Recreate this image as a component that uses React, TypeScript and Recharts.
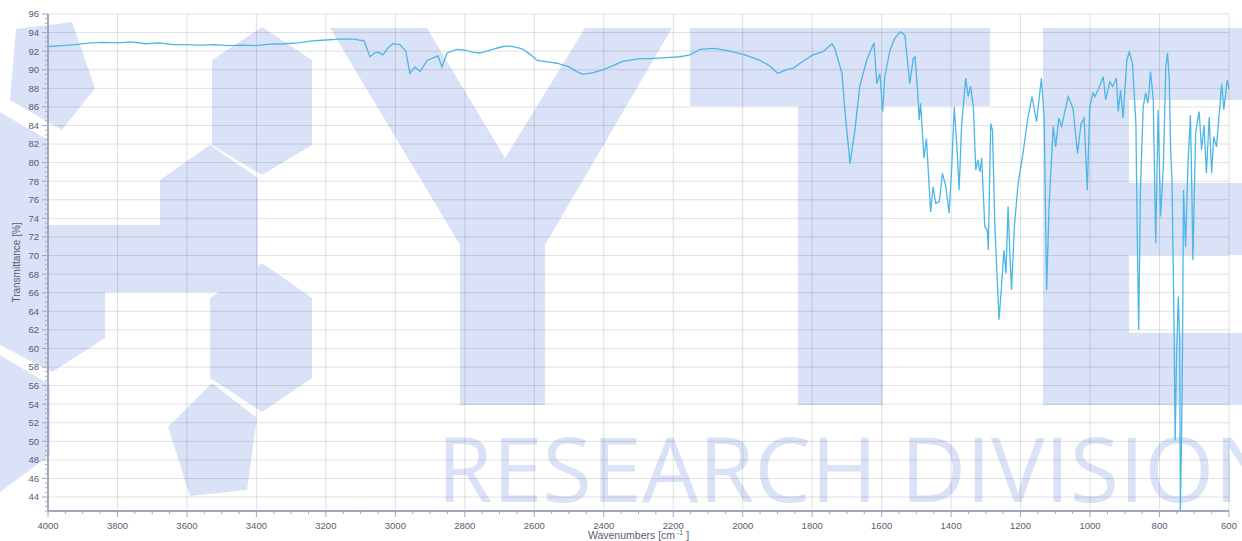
import { CartesianGrid, Label, Line, LineChart, XAxis, YAxis } from 'recharts';

// IR spectrum (wavenumber in cm-1, transmittance in %)
const wavenumbers = [
  4000, 3960, 3920, 3880, 3840, 3800, 3760, 3720, 3680, 3640, 3600, 3560, 3520, 3480, 3440, 3400,
  3360, 3320, 3280, 3240, 3200, 3160, 3120, 3090, 3073, 3060, 3050, 3036, 3020, 3007, 2987, 2970,
  2958, 2944, 2929, 2909, 2877, 2866, 2851, 2823, 2800, 2777, 2757, 2720, 2690, 2670, 2650, 2632,
  2610, 2592, 2560, 2535, 2500, 2477, 2460, 2430, 2402, 2370, 2345, 2296, 2267, 2220, 2180, 2152,
  2123, 2080, 2037, 1994, 1950, 1922, 1899, 1873, 1855, 1835, 1798, 1769, 1743, 1735, 1714, 1706,
  1691, 1677, 1663, 1643, 1622, 1614, 1605, 1597, 1591, 1576, 1562, 1546, 1533, 1525, 1519, 1509,
  1504, 1497, 1492, 1488, 1478, 1471, 1459, 1452, 1444, 1434, 1425, 1415, 1406, 1399, 1391, 1384,
  1377, 1370, 1358, 1351, 1344, 1336, 1329, 1323, 1317, 1312, 1303, 1296, 1293, 1286, 1281, 1274,
  1262, 1255, 1248, 1242, 1236, 1231, 1226, 1218, 1207, 1193, 1180, 1167, 1154, 1140, 1132, 1125,
  1118, 1106, 1099, 1090, 1082, 1063, 1049, 1036, 1026, 1017, 1008, 1001, 991, 986, 975, 962,
  955, 943, 935, 924, 919, 912, 905, 894, 887, 878, 868, 864, 860, 855, 847, 840,
  833, 826, 818, 811, 804, 797, 789, 782, 777, 772, 768, 764, 758, 755, 751, 746,
  742, 740, 736, 734, 731, 725, 718, 711, 707, 704, 696, 686, 679, 672, 665, 657,
  650, 644, 636, 628, 621, 615, 605, 600,
];

const transmittance = [
  92.5, 92.6, 92.7, 92.9, 92.95, 92.9, 93.0, 92.8, 92.9, 92.7, 92.7, 92.65, 92.7, 92.6, 92.65, 92.6,
  92.75, 92.8, 92.9, 93.1, 93.2, 93.3, 93.3, 93.1, 91.4, 91.8, 91.9, 91.6, 92.4, 92.8, 92.7, 92.0,
  89.6, 90.3, 89.8, 91.0, 91.5, 90.3, 91.8, 92.2, 92.1, 91.9, 91.8, 92.2, 92.5, 92.55, 92.4, 92.2,
  91.6, 91.0, 90.85, 90.7, 90.3, 89.8, 89.5, 89.7, 90.0, 90.5, 90.9, 91.2, 91.2, 91.3, 91.4, 91.6,
  92.2, 92.3, 92.0, 91.6, 91.0, 90.4, 89.6, 90.0, 90.15, 90.7, 91.6, 91.95, 92.8, 92.3, 89.6, 85.7,
  79.9, 83.5, 88.2, 91.05, 92.9, 88.5, 89.6, 85.5, 89.25, 92.1, 93.4, 94.1, 93.7, 90.7, 88.5, 91.2,
  91.4, 88.0, 84.6, 86.4, 80.5, 82.6, 74.7, 77.4, 75.6, 75.8, 78.85, 77.4, 74.55, 78.85, 86.0, 82.1,
  77.05, 83.9, 89.1, 87.1, 88.2, 86.0, 79.2, 80.3, 79.0, 80.5, 73.1, 72.75, 70.6, 84.2, 83.5, 73.1,
  63.1, 66.65, 70.6, 68.1, 75.3, 70.3, 66.3, 73.1, 77.8, 81.0, 84.6, 87.1, 84.4, 89.1, 84.6, 66.3,
  75.3, 83.9, 81.7, 84.8, 83.9, 87.1, 85.85, 81.0, 84.2, 84.8, 77.05, 86.0, 87.5, 87.1, 88.0, 89.25,
  86.75, 88.7, 88.2, 89.1, 85.5, 87.8, 84.8, 91.05, 91.9, 90.7, 84.2, 71.7, 62.0, 77.05, 86.0, 87.5,
  86.4, 89.8, 86.75, 71.3, 85.7, 74.2, 79.6, 90.3, 91.8, 88.9, 81.4, 77.8, 62.0, 50.1, 59.1, 65.6,
  60.9, 42.6, 52.0, 59.1, 77.05, 70.95, 80.0, 85.1, 77.05, 69.5, 83.2, 85.5, 81.4, 84.05, 78.85, 84.9,
  78.85, 82.8, 81.7, 85.3, 88.5, 85.7, 88.9, 87.9,
];

const xMajorTicks = [
  600, 800, 1000, 1200, 1400, 1600, 1800, 2000, 2200, 2400, 2600, 2800, 3000, 3200, 3400, 3600, 3800, 4000,
];
const yMajorTicks = [
  44, 46, 48, 50, 52, 54, 56, 58, 60, 62, 64, 66, 68, 70, 72, 74, 76, 78, 80, 82, 84, 86, 88, 90, 92, 94, 96,
];
const xDomain = [600, 4000];
const yDomain = [42.5, 96];

// minor ticks every 50 cm-1 and every 0.5 %
const xTicks = Array.from({ length: (xDomain[1] - xDomain[0]) / 50 + 1 }, (_, i) => xDomain[0] + i * 50);
const yTicks = Array.from({ length: (yDomain[1] - yDomain[0]) / 0.5 + 1 }, (_, i) => yDomain[0] + i * 0.5);

const data = wavenumbers.map((w, i) => ({ w, t: transmittance[i] }));

const FONT = '"Liberation Sans", Arial, sans-serif';
const AXIS = '#a2a8b9';
const TEXT = '#585c70';
const MARK = '#dae2f7';

const XTick = (props: any) => {
  const { x, y, payload } = props;
  const major = payload.value % 200 === 0;
  return (
    <g>
      <line x1={x} x2={x} y1={y} y2={y + (major ? 6 : 3)} stroke={AXIS} strokeWidth={1} />
      {major && (
        <text x={x} y={y + 18} textAnchor="middle" fontFamily={FONT} fontSize={9.5} fill={TEXT}>
          {payload.value}
        </text>
      )}
    </g>
  );
};

const YTick = (props: any) => {
  const { x, y, payload } = props;
  const v = payload.value;
  const major = v % 2 === 0 && v >= 44;
  return (
    <g>
      <line x1={x} x2={x - (major ? 6 : 3)} y1={y} y2={y} stroke={AXIS} strokeWidth={1} />
      {major && (
        <text x={x - 9} y={y + 3.4} textAnchor="end" fontFamily={FONT} fontSize={9.5} fill={TEXT}>
          {v}
        </text>
      )}
    </g>
  );
};

// faint logo behind the plot
const Watermark = () => {
  const shapes = [
    '16,29 72,22 95,88 62,130 10,100',
    '0,112 48,140 48,225 160,225 160,180 210,145 258,178 258,292 105,292 105,338 52,372 0,345',
    '0,355 50,385 50,455 0,492',
    '212,60 262,27 312,60 312,145 262,175 212,145',
    '210,298 262,263 312,298 312,378 262,412 210,378',
    '168,427 212,383 257,418 247,490 190,496',
    '330,28 427,28 505,158 585,28 672,28 545,245 545,405 460,405 460,245',
    '690,28 990,28 990,106 883,106 883,405 798,405 798,106 690,106',
    '1043,28 1242,28 1242,100 1129,100 1129,183 1242,183 1242,255 1129,255 1129,333 1242,333 1242,405 1043,405',
  ];
  return (
    <svg width={1242} height={541} style={{ position: 'absolute', left: 0, top: 0 }}>
      {shapes.map((p, i) => (
        <polygon key={i} points={p} fill={MARK} />
      ))}
      <text
        x={437}
        y={502}
        fontFamily='"Open Sans", "Liberation Sans", sans-serif'
        fontSize={90}
        fill={MARK}
        textLength={845}
        lengthAdjust="spacingAndGlyphs"
      >
        RESEARCH DIVISION
      </text>
    </svg>
  );
};

export default function App() {
  return (
    <div style={{ position: 'absolute', left: 0, top: 0, width: 1242, height: 541, background: '#fff', overflow: 'hidden' }}>
      <Watermark />
      <div style={{ position: 'absolute', left: 0, top: 0 }}>
        <LineChart width={1242} height={541} data={data} margin={{ top: 14, right: 13, left: 8, bottom: 0 }}>
          <CartesianGrid
            stroke="#000"
            strokeOpacity={0.12}
            verticalValues={xMajorTicks}
            horizontalValues={yMajorTicks}
          />
          <XAxis
            dataKey="w"
            type="number"
            domain={xDomain}
            reversed
            ticks={xTicks}
            interval={0}
            height={30}
            tickSize={0}
            tickMargin={0}
            tickLine={false}
            axisLine={{ stroke: AXIS, strokeWidth: 2 }}
            tick={(p: any) => <XTick {...p} />}
          >
            <Label
              content={(p: any) => {
                const vb = p.viewBox;
                return (
                  <text x={vb.x + vb.width / 2} y={vb.y + 27.5} textAnchor="middle" fontFamily={FONT} fontSize={10.5} fill={TEXT}>
                    Wavenumbers [cm
                    <tspan dy={-4} fontSize={7}> -1</tspan>
                    <tspan dy={4}> ]</tspan>
                  </text>
                );
              }}
            />
          </XAxis>
          <YAxis
            type="number"
            domain={yDomain}
            allowDataOverflow
            ticks={yTicks}
            interval={0}
            width={40}
            tickSize={0}
            tickMargin={0}
            tickLine={false}
            axisLine={{ stroke: AXIS, strokeWidth: 2 }}
            tick={(p: any) => <YTick {...p} />}
          >
            <Label
              content={(p: any) => {
                const vb = p.viewBox;
                const cx = vb.x + 8;
                const cy = vb.y + vb.height / 2;
                return (
                  <text
                    x={cx}
                    y={cy}
                    transform={`rotate(-90 ${cx} ${cy})`}
                    textAnchor="middle"
                    dominantBaseline="central"
                    fontFamily={FONT}
                    fontSize={10}
                    fill={TEXT}
                  >
                    Transmittance [%]
                  </text>
                );
              }}
            />
          </YAxis>
          <Line
            type="linear"
            dataKey="t"
            stroke="#4cb6e6"
            strokeWidth={1.3}
            dot={false}
            activeDot={false}
            isAnimationActive={false}
          />
        </LineChart>
      </div>
    </div>
  );
}
